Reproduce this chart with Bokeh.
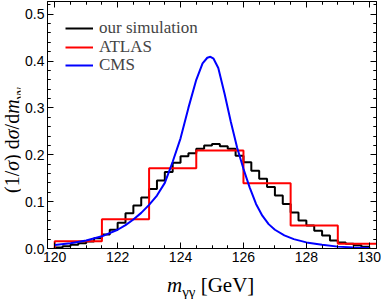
import numpy as np
from bokeh.plotting import figure
from bokeh.models import Range1d, LinearAxis, Legend, LegendItem, Div, CustomJSTickFormatter
from bokeh.layouts import row, column
from bokeh.embed import file_html
from bokeh.resources import INLINE

# ---- data ----
# our simulation: 0.25 GeV bins from 120 to 130
sim_edges = list(np.arange(120.0, 130.001, 0.25))
sim_vals = [0.002, 0.005, 0.008, 0.011, 0.015, 0.022, 0.030, 0.040,
            0.055, 0.075, 0.092, 0.109, 0.127, 0.145, 0.163, 0.183,
            0.197, 0.203, 0.213, 0.220, 0.223, 0.218, 0.213, 0.198,
            0.184, 0.166, 0.149, 0.131, 0.113, 0.095, 0.077, 0.060,
            0.049, 0.038, 0.028, 0.017, 0.013, 0.010, 0.007, 0.004]

# ATLAS: 1.5 GeV bins
atlas_edges = [120.0, 121.5, 123.0, 124.5, 126.0, 127.5, 129.0, 130.5]
atlas_vals = [0.0156, 0.0625, 0.171, 0.209, 0.139, 0.049, 0.010]

# CMS curve
cms_x = [120.0, 120.5, 121.0, 121.5, 122.0, 122.25, 122.5, 122.75, 123.0,
         123.25, 123.5, 123.75, 124.0, 124.25, 124.5, 124.7, 124.85, 124.95,
         125.05, 125.2, 125.4, 125.6, 125.8, 126.0, 126.2, 126.4, 126.6,
         126.8, 127.0, 127.3, 127.6, 128.0, 128.5, 129.0, 129.5, 130.0]
cms_y = [0.0075, 0.011, 0.017, 0.026, 0.040, 0.050, 0.062, 0.076, 0.093,
         0.113, 0.140, 0.185, 0.235, 0.300, 0.360, 0.395, 0.407, 0.409,
         0.405, 0.385, 0.330, 0.270, 0.215, 0.170, 0.130, 0.095, 0.070,
         0.052, 0.040, 0.028, 0.020, 0.013, 0.008, 0.004, 0.002, 0.001]

x_ticks = [120, 122, 124, 126, 128, 130]
y_ticks = [0.0, 0.1, 0.2, 0.3, 0.4, 0.5]
series_names = ["our simulation", "ATLAS", "CMS"]

# ---- figure ----
p = figure(width=361, height=268, output_backend="svg", toolbar_location=None,
           x_range=Range1d(119.77, 130.23), y_range=Range1d(0.0, 0.527),
           min_border_left=27, min_border_right=5, min_border_top=1,
           min_border_bottom=20)
p.xgrid.visible = False
p.ygrid.visible = False
p.outline_line_color = "black"
p.outline_line_width = 1
p.background_fill_color = "white"
p.border_fill_color = "white"

sim_xs = [sim_edges[0]] + sim_edges
sim_ys = [0.0] + sim_vals + [0.0]
atlas_xs = [atlas_edges[0]] + atlas_edges
atlas_ys = [0.0] + atlas_vals + [0.0]

r_sim = p.step(sim_xs, sim_ys, mode="after", line_color="black", line_width=2)
r_atlas = p.step(atlas_xs, atlas_ys, mode="after", line_color="#ff0000", line_width=2)
r_cms = p.line(cms_x, cms_y, line_color="#0000ff", line_width=2)

tick_font = "Liberation Sans"
for ax in (p.xaxis[0], p.yaxis[0]):
    ax.major_tick_in = 6
    ax.major_tick_out = 0
    ax.minor_tick_in = 3
    ax.minor_tick_out = 0
    ax.axis_line_color = "black"
    ax.major_tick_line_color = "black"
    ax.minor_tick_line_color = "black"
    ax.major_label_text_font = tick_font
    ax.major_label_text_font_size = "14px"
    ax.major_label_text_color = "black"
    ax.major_label_standoff = 3
p.xaxis[0].ticker = x_ticks
p.yaxis[0].ticker = y_ticks
p.xaxis[0].ticker.minor_ticks = [x + 0.5 * k for x in x_ticks for k in (-3, -2, -1, 1, 2, 3)]
p.yaxis[0].ticker.minor_ticks = [round(y + 0.02 * k, 3) for y in y_ticks for k in (-4, -3, -2, -1, 1, 2, 3, 4)]
p.yaxis[0].formatter = CustomJSTickFormatter(code="return tick.toFixed(1)")

for place in ("right", "above"):
    ax = LinearAxis(ticker=p.yaxis[0].ticker if place == "right" else p.xaxis[0].ticker)
    ax.major_tick_in = 6
    ax.major_tick_out = 0
    ax.minor_tick_in = 3
    ax.minor_tick_out = 0
    ax.formatter = CustomJSTickFormatter(code="return ''")
    ax.major_label_text_font_size = "0px"
    ax.major_label_standoff = 0
    ax.axis_line_color = "black"
    p.add_layout(ax, place)

# one legend per entry so the entry pitch matches the reference
for name, rend, vy in zip(series_names, [r_sim, r_atlas, r_cms], [210, 191.5, 173]):
    lg = Legend(items=[LegendItem(label=name, renderers=[rend])],
                location=(18, vy), padding=0, spacing=0, margin=0,
                glyph_width=28, glyph_height=16, label_height=16,
                label_standoff=6, label_text_font="Liberation Serif",
                label_text_font_size="17px",
                border_line_alpha=0, background_fill_alpha=0)
    p.add_layout(lg)

serif = "'Liberation Serif', 'Times New Roman', serif"
ylab = Div(width=20, height=268, margin=0,
           text=('<div style="position:relative;width:20px;height:268px;">'
                 '<span style="position:absolute;left:12px;top:140px;'
                 'transform:translate(-50%,-50%) rotate(-90deg);white-space:nowrap;'
                 f'font-family:{serif};font-size:20px;line-height:22px;color:black;">'
                 '(1/<i>σ</i>) d<i>σ</i>/d<i>m</i>'
                 '<sub style="font-size:14px;line-height:0;">γγ</sub></span></div>'))
xlab = Div(width=381, height=30, margin=0,
           text=('<div style="position:relative;width:381px;height:30px;">'
                 '<span style="position:absolute;left:167px;top:5px;white-space:nowrap;'
                 f'font-family:{serif};font-size:21px;line-height:24px;color:black;">'
                 '<i>m</i><sub style="font-size:15px;line-height:0;">γγ</sub> [GeV]</span></div>'))

layout = column(row(ylab, p, spacing=0), xlab, spacing=0)
open("out.html", "w").write(file_html(layout, INLINE))
